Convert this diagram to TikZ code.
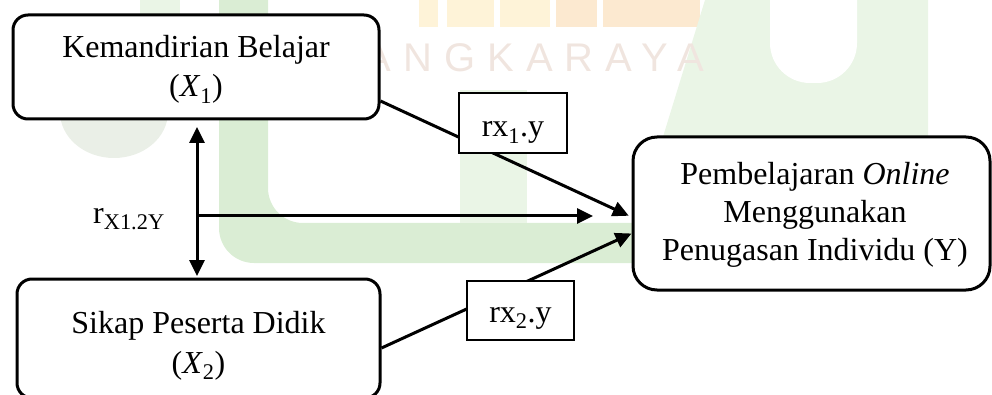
\documentclass[tikz,border=0pt]{standalone}
\usepackage{fontspec}
\setmainfont{Liberation Serif}
\newfontfamily\wmfont[LetterSpace=30]{Liberation Sans}
\usetikzlibrary{arrows.meta,calc}
\definecolor{wmgreen}{RGB}{218,237,212}
\definecolor{wmgreenlt}{RGB}{234,245,230}
\definecolor{wmyellow}{RGB}{254,243,216}
\definecolor{wmorange}{RGB}{252,233,208}
\definecolor{wmtext}{RGB}{240,229,223}
\definecolor{wmgray}{RGB}{234,239,231}
\begin{document}
\begin{tikzpicture}[x=1pt,y=-1pt,
  bigbox/.style={draw=black,line width=3pt,rounded corners=15pt,fill=white,inner sep=0pt},
  rbox/.style={draw=black,line width=1.8pt,fill=white,inner sep=0pt,font=\fontsize{32pt}{38pt}\selectfont},
  btext/.style={align=center,inner sep=0pt,anchor=base},
  conn/.style={line width=3pt,-{Triangle[length=16pt,width=15pt]}},
  dconn/.style={line width=3pt,{Triangle[length=16pt,width=15pt]}-{Triangle[length=16pt,width=15pt]}},
  ]
\clip (0,0) rectangle (992,395);
% ---- faint watermark ----
\fill[wmyellow] (419,0) rectangle (438,27);
\fill[wmyellow] (447,0) rectangle (494,27);
\fill[wmyellow] (500,0) rectangle (550,27);
\fill[wmorange] (556,0) rectangle (597,27);
\fill[wmorange] (603,0) rectangle (700,27);
\fill[wmgreenlt] (140,0) rectangle (180,14);
\fill[wmgreen,rounded corners=35pt] (219,-60) -- (219,263) -- (720,263) -- (720,223) -- (268,223) -- (268,-60) -- cycle;
\fill[wmgreenlt] (460,90) rectangle (527,223);
\fill[wmgreenlt] (705,0) -- (928,0) -- (928,140) -- (662,140) -- cycle;
\fill[white,rounded corners=40pt] (770,-60) -- (770,83) -- (857,83) -- (857,-60) -- cycle;
\fill[wmgray] (114,112) ellipse [x radius=54pt, y radius=46pt];
\node[anchor=base east,inner sep=0pt,text=wmtext,font=\wmfont\fontsize{40pt}{40pt}\selectfont] (wmt) at (704,72) {ANGKARAYA};
% ---- main boxes ----
\node[bigbox,minimum width=366pt,minimum height=104pt] (X1) at (196,67) {};
\node[btext,font=\fontsize{32pt}{39pt}\selectfont] (X1t) at (196,97) {Kemandirian Belajar\\(\textit{X}\textsubscript{1})};
\node[bigbox,minimum width=363pt,minimum height=119pt] (X2) at (198.5,338.5) {};
\node[btext,font=\fontsize{32pt}{40pt}\selectfont] (X2t) at (198.5,373) {Sikap Peserta Didik\\(\textit{X}\textsubscript{2})};
\node[bigbox,rounded corners=24pt,minimum width=357pt,minimum height=153pt] (Y) at (811.5,213.5) {};
\node[btext,font=\fontsize{32pt}{38pt}\selectfont] (Yt) at (815,260) {Pembelajaran \textit{Online}\\Menggunakan\\Penugasan Individu (Y)};
% ---- connectors ----
\coordinate (mid) at (197,216);
\draw[dconn,shorten <=6.5pt,shorten >=1.5pt] (X1.south -| mid) -- (X2.north -| mid);
\draw[conn,shorten >=38.5pt] (mid) -- (mid -| Y.west);
\draw[conn,shorten >=3pt] ([yshift=-34pt]X1.east) -- ([yshift=-3.5pt]Y.west);
\draw[conn] ([yshift=-9.5pt]X2.east) -- ([yshift=-20pt]Y.west);
\node[anchor=base west,inner sep=0pt,font=\fontsize{32pt}{38pt}\selectfont] (rlab) at (93,223) {r\textsubscript{X1.2Y}};
\node[rbox,minimum width=108pt,minimum height=60pt,text height=28pt,text depth=0pt] (R1) at (513,123) {rx\textsubscript{1}.y};
\node[rbox,minimum width=107pt,minimum height=59pt,text height=23pt,text depth=0pt] (R2) at (520.5,310.5) {rx\textsubscript{2}.y};
\end{tikzpicture}
\end{document}
